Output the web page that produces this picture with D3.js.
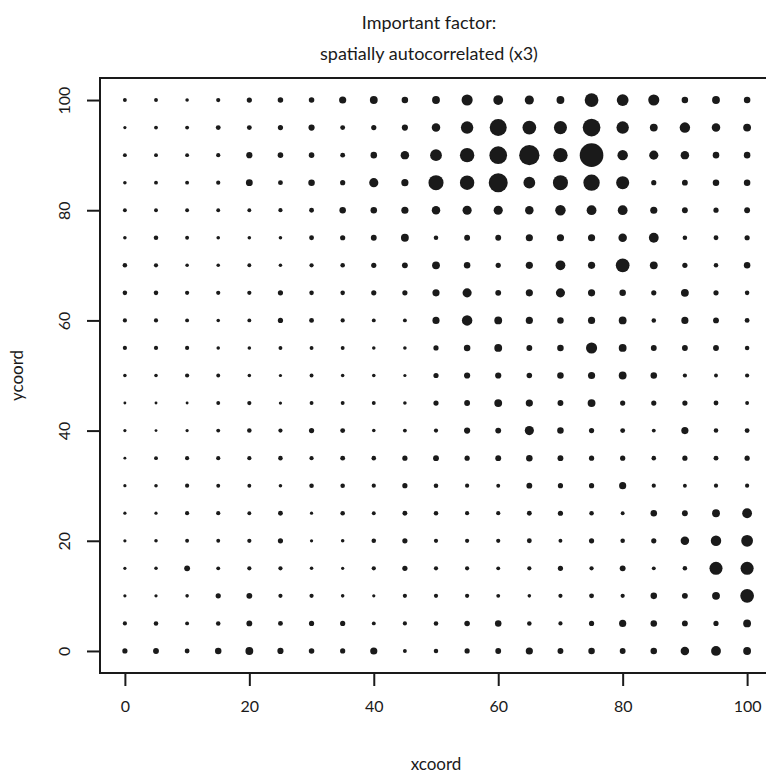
<!DOCTYPE html>
<html>
<head>
<meta charset="utf-8">
<script src="https://cdn.jsdelivr.net/npm/d3@7"></script>
<style>
  html, body { margin: 0; padding: 0; background: #fff; }
  svg { display: block; font-family: Lato, "Open Sans", sans-serif; }
</style>
</head>
<body>
<svg id="chart" width="766" height="775"></svg>
<script>
// Grid coordinates (both axes run 0..100 in steps of 5)
const xcoords = d3.range(0, 101, 5);
const ycoordsTopDown = d3.range(100, -1, -5);

// Factor value at each grid cell; one row per ycoord (from 100 down to 0),
// each row lists the values for xcoord = 0, 5, ..., 100.
const row100 = [1.0, 1.0, 0.9, 1.1, 1.4, 1.5, 1.5, 2.0, 2.2, 1.8, 2.2, 3.2, 2.8, 2.6, 2.2, 4.0, 3.4, 3.2, 1.8, 2.2, 1.8];
const row95  = [0.8, 1.0, 1.0, 1.3, 1.3, 1.4, 1.7, 1.3, 1.4, 1.7, 2.4, 3.6, 5.0, 4.0, 3.8, 5.2, 3.6, 2.2, 3.0, 2.4, 2.2];
const row90  = [1.0, 1.0, 1.0, 1.1, 1.7, 1.5, 1.5, 1.3, 1.8, 2.4, 3.4, 4.2, 5.2, 6.0, 4.2, 7.0, 3.0, 2.6, 2.4, 1.8, 1.8];
const row85  = [0.9, 1.0, 1.0, 1.1, 1.9, 1.3, 1.8, 1.4, 2.6, 2.0, 4.4, 4.2, 5.6, 3.4, 4.4, 4.8, 3.8, 1.4, 1.6, 1.8, 1.8];
const row80  = [1.0, 1.0, 1.0, 1.0, 1.0, 1.1, 1.3, 1.8, 1.8, 2.0, 2.4, 2.6, 2.6, 2.4, 3.0, 2.8, 2.8, 2.0, 1.6, 1.4, 1.6];
const row75  = [0.9, 1.2, 1.0, 0.9, 0.9, 0.9, 1.3, 1.4, 1.6, 2.2, 1.2, 1.6, 1.6, 2.0, 2.0, 2.0, 2.4, 2.8, 1.2, 1.3, 1.4];
const row70  = [1.2, 1.1, 0.9, 0.9, 1.0, 0.9, 1.1, 1.2, 1.4, 1.6, 2.2, 1.8, 1.4, 2.0, 2.8, 2.0, 4.0, 2.2, 1.4, 1.2, 1.8];
const row65  = [1.2, 1.2, 1.1, 1.1, 1.1, 1.4, 1.2, 1.2, 1.4, 1.4, 2.0, 2.6, 1.6, 2.0, 2.6, 2.0, 1.8, 1.4, 2.2, 1.4, 1.2];
const row60  = [1.1, 1.1, 1.0, 0.9, 1.0, 1.4, 1.3, 1.1, 1.0, 1.0, 2.0, 3.0, 2.2, 2.0, 1.8, 2.0, 2.2, 1.2, 2.0, 1.6, 1.3];
const row55  = [1.1, 1.1, 1.1, 0.9, 0.9, 1.0, 1.0, 1.0, 0.9, 0.9, 1.4, 1.8, 2.2, 1.6, 1.8, 3.2, 2.2, 1.6, 1.6, 1.6, 1.2];
const row50  = [0.9, 0.9, 1.1, 1.0, 0.9, 0.8, 1.0, 0.9, 0.9, 0.8, 1.4, 1.7, 1.7, 1.5, 1.8, 2.0, 2.2, 1.8, 1.1, 1.0, 1.1];
const row45  = [0.7, 0.7, 0.7, 1.0, 1.1, 0.8, 1.0, 1.0, 1.0, 0.9, 1.4, 1.6, 2.2, 2.0, 1.6, 2.2, 1.4, 1.4, 1.4, 1.3, 1.0];
const row40  = [0.8, 0.7, 0.8, 1.0, 1.2, 1.1, 1.4, 1.3, 0.9, 1.0, 1.1, 1.7, 1.6, 2.6, 1.8, 1.4, 1.3, 1.0, 2.0, 1.2, 1.3];
const row35  = [0.7, 1.0, 1.1, 1.1, 1.1, 1.2, 1.1, 1.3, 1.2, 1.4, 1.6, 1.4, 1.6, 1.8, 1.6, 1.4, 1.4, 1.2, 1.4, 1.3, 1.4];
const row30  = [0.8, 0.9, 1.1, 1.0, 1.0, 0.9, 1.2, 1.2, 1.1, 1.4, 1.2, 1.1, 1.0, 1.6, 1.4, 1.4, 2.0, 1.1, 1.0, 1.1, 1.1];
const row25  = [0.8, 0.8, 1.1, 1.1, 1.0, 1.3, 0.8, 1.2, 1.0, 1.3, 1.2, 1.1, 1.1, 1.3, 1.4, 1.2, 1.0, 1.8, 1.6, 2.2, 2.8];
const row20  = [0.8, 0.9, 1.0, 1.0, 1.1, 1.4, 0.8, 0.9, 1.2, 1.4, 1.1, 1.1, 1.1, 1.3, 1.0, 1.4, 1.2, 1.4, 2.4, 3.0, 3.4];
const row15  = [0.8, 0.9, 1.6, 1.0, 1.1, 1.1, 0.9, 0.8, 1.1, 1.4, 1.1, 1.1, 1.0, 1.1, 1.4, 1.1, 1.6, 1.0, 1.2, 3.8, 3.8];
const row10  = [0.8, 0.8, 0.9, 1.4, 1.6, 1.1, 1.1, 0.9, 0.8, 1.1, 1.1, 1.1, 1.0, 0.9, 1.1, 1.3, 1.1, 1.8, 1.6, 2.2, 4.0];
const row5   = [1.1, 1.2, 1.0, 1.2, 1.6, 1.3, 1.4, 1.4, 1.0, 1.1, 1.2, 1.5, 1.8, 1.2, 1.1, 1.4, 2.0, 1.8, 1.6, 1.4, 2.2];
const row0   = [1.4, 1.6, 1.3, 1.8, 2.2, 1.7, 1.5, 1.4, 2.0, 1.0, 1.2, 1.4, 1.6, 2.0, 1.6, 1.8, 1.6, 1.8, 2.4, 2.8, 2.2];

const factorRows = [row100, row95, row90, row85, row80, row75, row70, row65, row60, row55, row50,
                    row45, row40, row35, row30, row25, row20, row15, row10, row5, row0];

// Axis ticks and text
const xTicks = [0, 20, 40, 60, 80, 100];
const yTicks = [0, 20, 40, 60, 80, 100];
const titleLines = ["Important factor:", "spatially autocorrelated (x3)"];
const xLabel = "xcoord";
const yLabel = "ycoord";

// Flatten the grid into points
const points = [];
factorRows.forEach((row, i) => {
  row.forEach((v, j) => points.push({ x: xcoords[j], y: ycoordsTopDown[i], value: v }));
});

const svg = d3.select("#chart");
const plot = { left: 100, top: 78, right: 772, bottom: 673 };

// Axis domains carry the usual 4% padding beyond the data range
const x = d3.scaleLinear().domain([-4, 104]).range([plot.left, plot.right]);
const y = d3.scaleLinear().domain([-4, 104]).range([plot.bottom, plot.top]);
const r = d3.scaleLinear().domain([0, 7]).range([0.3, 11.8]);

const ink = "#1a1a1a";
const font = 'Lato, "Open Sans", sans-serif';

// Points
svg.append("g")
  .selectAll("circle")
  .data(points)
  .join("circle")
  .attr("cx", d => x(d.x))
  .attr("cy", d => y(d.y))
  .attr("r", d => r(d.value))
  .attr("fill", ink);

// Plot frame
svg.append("rect")
  .attr("x", plot.left)
  .attr("y", plot.top)
  .attr("width", plot.right - plot.left)
  .attr("height", plot.bottom - plot.top)
  .attr("fill", "none")
  .attr("stroke", ink)
  .attr("stroke-width", 2);

// Bottom axis
const xAxis = d3.axisBottom(x).tickValues(xTicks).tickSize(13).tickPadding(15).tickFormat(d3.format("d"));
const gx = svg.append("g").attr("transform", `translate(0,${plot.bottom})`).call(xAxis);
gx.select(".domain").attr("d", `M${x(0)},0H${x(100)}`).attr("stroke", ink).attr("stroke-width", 2);
gx.selectAll(".tick line").attr("stroke", ink).attr("stroke-width", 2);
gx.selectAll(".tick text").attr("fill", ink).attr("font-size", 16).attr("font-family", font);

// Left axis with labels rotated parallel to the axis
const yAxis = d3.axisLeft(y).tickValues(yTicks).tickSize(13).tickPadding(0).tickFormat(d3.format("d"));
const gy = svg.append("g").attr("transform", `translate(${plot.left},0)`).call(yAxis);
gy.select(".domain").attr("d", `M0,${y(0)}V${y(100)}`).attr("stroke", ink).attr("stroke-width", 2);
gy.selectAll(".tick line").attr("stroke", ink).attr("stroke-width", 2);
gy.selectAll(".tick text")
  .attr("fill", ink)
  .attr("font-size", 16)
  .attr("font-family", font)
  .attr("x", null).attr("dy", null)
  .attr("text-anchor", "middle")
  .attr("dominant-baseline", "central")
  .attr("transform", "translate(-37,0) rotate(-90)");

// Axis titles
svg.append("text")
  .attr("x", (plot.left + plot.right) / 2)
  .attr("y", 770)
  .attr("text-anchor", "middle")
  .attr("font-size", 17)
  .attr("fill", ink)
  .text(xLabel);

svg.append("text")
  .attr("transform", `translate(16,${(plot.top + plot.bottom) / 2}) rotate(-90)`)
  .attr("text-anchor", "middle")
  .attr("dominant-baseline", "central")
  .attr("font-size", 17)
  .attr("fill", ink)
  .text(yLabel);

// Two-line title
svg.append("g")
  .selectAll("text")
  .data(titleLines)
  .join("text")
  .attr("x", 429)
  .attr("y", (d, i) => 22 + i * 31)
  .attr("text-anchor", "middle")
  .attr("dominant-baseline", "central")
  .attr("font-size", 18)
  .attr("fill", ink)
  .text(d => d);
</script>
</body>
</html>
